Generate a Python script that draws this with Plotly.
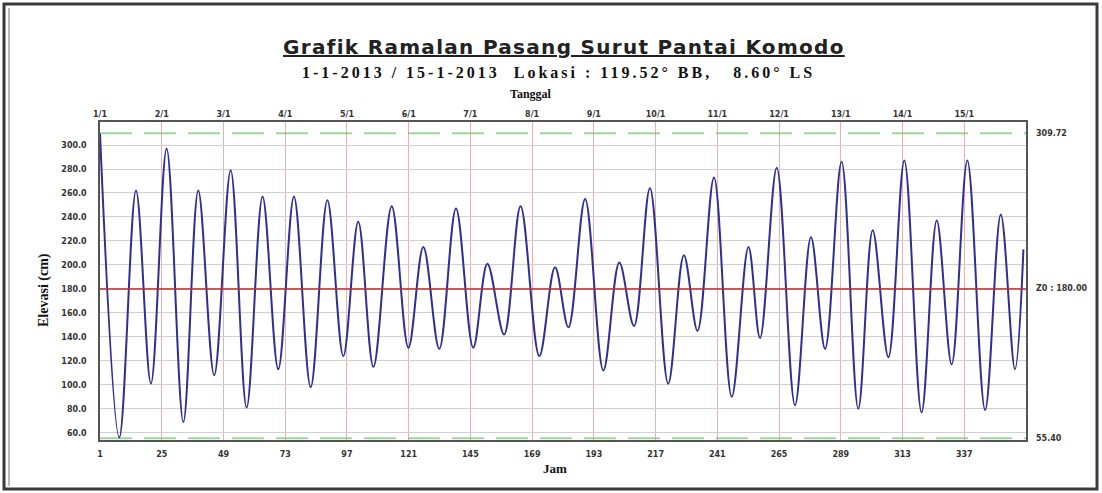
import plotly.graph_objects as go

# ---- data (hour index, elevation cm) ----
hours = [1, 8.5, 15, 20.8, 26.9, 33.4, 39.2, 45.4, 51.8, 58, 64.2, 70.3, 76.4, 82.9,
         89.4, 95.6, 101.4, 107.3, 114.4, 120.9, 126.7, 132.9, 139.4, 146.1, 151.6, 158.1,
         164.5, 171.8, 177.9, 183.1, 189.6, 196.7, 202.9, 208.6, 214.8, 221.9, 228, 233.3,
         239.7, 246.6, 253.1, 257.6, 264.1, 271.2, 277.4, 282.9, 289.3, 295.8, 301.4, 307.5,
         313.7, 320.4, 326.3, 332.1, 338.2, 345.1, 351.2, 356.7, 360]
elevation = [309.7, 56, 262, 101, 297, 69, 262, 108, 279, 81, 257, 113, 257, 98,
             254, 124, 236, 115, 249, 131, 215, 130, 247, 131, 201, 142,
             249, 124, 198, 148, 255, 112, 202, 149, 264, 101, 208, 145,
             273, 90, 215, 139, 281, 83, 223, 130, 286, 80, 229, 123,
             287, 77, 237, 117, 287, 79, 242, 113, 213]

hour_ticks = [1, 25, 49, 73, 97, 121, 145, 169, 193, 217, 241, 265, 289, 313, 337]
date_labels = ["1/1", "2/1", "3/1", "4/1", "5/1", "6/1", "7/1", "8/1", "9/1", "10/1",
               "11/1", "12/1", "13/1", "14/1", "15/1"]
elev_ticks = [60, 80, 100, 120, 140, 160, 180, 200, 220, 240, 260, 280, 300]
msl = 180.0
max_level = 309.72
min_level = 55.40

W, H = 1102, 493
L, R, T, B = 100, 1026, 122, 440


def xp(px):
    return (px - L) / (R - L)


def yp(py):
    return (B - py) / (B - T)


fig = go.Figure()
fig.add_trace(go.Scatter(x=hours, y=elevation, mode="lines",
                         line=dict(color="#2f2f92", width=2, shape="spline", smoothing=1.0),
                         hoverinfo="skip", showlegend=False))
# invisible trace for top axis
fig.add_trace(go.Scatter(x=[hours[0], hours[-1]], y=[msl, msl], xaxis="x2", mode="lines",
                         line=dict(width=0), opacity=0, hoverinfo="skip", showlegend=False))

tickfont = dict(family="DejaVu Sans", size=8, color="#333", weight="bold")
serif = "Liberation Serif"

fig.update_layout(
    width=W, height=H,
    margin=dict(l=L, r=W - R, t=T, b=H - B),
    paper_bgcolor="white", plot_bgcolor="white",
    xaxis=dict(range=[1, 361], tickvals=hour_ticks, ticktext=[str(h) for h in hour_ticks],
               showgrid=True, gridcolor="rgba(225,110,110,0.55)", gridwidth=1,
               showline=True, linecolor="#555", linewidth=1.5, mirror=True,
               ticks="", ticklabelstandoff=6, tickfont=tickfont, zeroline=False),
    xaxis2=dict(range=[1, 361], overlaying="x", side="top", tickvals=hour_ticks,
                ticktext=date_labels, showgrid=False, ticks="", ticklabelstandoff=2,
                tickfont=tickfont, showline=False, zeroline=False),
    yaxis=dict(range=[54, 319.2], tickvals=elev_ticks, tickformat=".1f",
               showgrid=True, gridcolor="#d0d0d0", gridwidth=1,
               showline=True, linecolor="#555", linewidth=1.5, mirror=True,
               ticks="", ticklabelstandoff=10, tickfont=tickfont, zeroline=False),
    shapes=[
        dict(type="line", xref="paper", x0=0, x1=1, yref="y", y0=msl, y1=msl,
             line=dict(color="#c82828", width=1.5), layer="above"),
        dict(type="line", xref="paper", x0=0, x1=1, yref="y", y0=max_level, y1=max_level,
             line=dict(color="#9bd89b", width=2, dash="32px,12px"), layer="below"),
        dict(type="line", xref="paper", x0=0, x1=1, yref="y", y0=min_level, y1=min_level,
             line=dict(color="#9bd89b", width=2, dash="32px,12px"), layer="below"),
        # outer frame
        dict(type="rect", xref="paper", yref="paper", x0=xp(4), x1=xp(1097), y0=yp(489), y1=yp(4),
             line=dict(color="#3a3a3a", width=3)),
        dict(type="line", xref="paper", yref="paper", x0=xp(9), x1=xp(9), y0=yp(486), y1=yp(8),
             line=dict(color="#777", width=1)),
    ],
    annotations=[
        dict(text="<u><span style='letter-spacing:1.3px'>Grafik Ramalan Pasang Surut Pantai Komodo</span></u>",
             xref="paper", yref="paper",
             x=xp(564), y=yp(47), xanchor="center", yanchor="middle", showarrow=False,
             font=dict(family="DejaVu Sans", size=20, color="#222", weight="bold")),
        dict(text="<span style='letter-spacing:3px'>1-1-2013 / 15-1-2013  Lokasi : 119.52° BB,   8.60° LS</span>",
             xref="paper", yref="paper",
             x=xp(558), y=yp(73), xanchor="center", yanchor="middle", showarrow=False,
             font=dict(family=serif, size=16, color="#111", weight="bold")),
        dict(text="Tanggal", xref="paper", yref="paper", x=xp(531), y=yp(94),
             xanchor="center", yanchor="middle", showarrow=False,
             font=dict(family=serif, size=12, color="#111", weight="bold")),
        dict(text="Jam", xref="paper", yref="paper", x=xp(555), y=yp(468),
             xanchor="center", yanchor="middle", showarrow=False,
             font=dict(family=serif, size=13, color="#111", weight="bold")),
        dict(text="Elevasi (cm)", xref="paper", yref="paper", x=xp(44), y=yp(290),
             xanchor="center", yanchor="middle", showarrow=False, textangle=-90,
             font=dict(family=serif, size=14, color="#111", weight="bold")),
        dict(text=f"{max_level:.2f}", xref="paper", yref="y", x=xp(1034), y=max_level,
             xanchor="left", yanchor="middle", showarrow=False, font=tickfont),
        dict(text=f"Z0 : {msl:.2f}", xref="paper", yref="y", x=xp(1034), y=msl,
             xanchor="left", yanchor="middle", showarrow=False, font=tickfont),
        dict(text=f"{min_level:.2f}", xref="paper", yref="y", x=xp(1034), y=min_level,
             xanchor="left", yanchor="middle", showarrow=False, font=tickfont),
    ],
)

fig.write_html("out.html")
